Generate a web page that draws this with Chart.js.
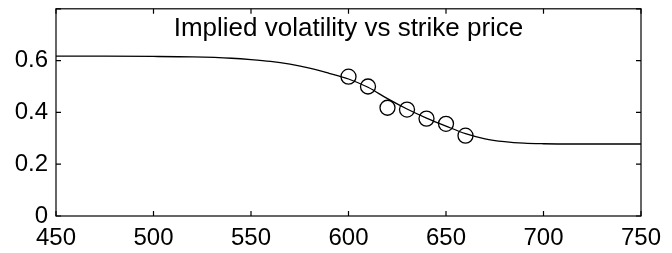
<!DOCTYPE html>
<html>
<head>
<meta charset="utf-8">
<script src="https://cdn.jsdelivr.net/npm/chart.js@4"></script>
<style>
  body { margin: 0; background: #fff; }
</style>
</head>
<body>
<canvas id="volChart" width="672" height="253"></canvas>
<script>
// market implied vols (circles)
const strikes = [600, 610, 620, 630, 640, 650, 660];
const impliedVols = [0.538, 0.500, 0.418, 0.411, 0.376, 0.356, 0.310];

// fitted curve
const curveStrikes = [450, 475, 500, 520, 540, 550, 560, 570, 580, 590, 600, 610, 620, 630, 640, 650, 660, 670, 680, 690, 700, 725, 750];
const curveVols = [0.617, 0.617, 0.616, 0.614, 0.609, 0.604, 0.597, 0.586, 0.571, 0.551, 0.529, 0.497, 0.453, 0.413, 0.378, 0.347, 0.318, 0.298, 0.287, 0.281, 0.279, 0.278, 0.278];

const xTicks = [450, 500, 550, 600, 650, 700, 750];
const yTicks = [0, 0.2, 0.4, 0.6, 0.8];
const yLabelled = [0, 0.2, 0.4, 0.6]; // 0.8 has a tick mark but no label
const titleText = 'Implied volatility vs strike price';

const fontFamily = '"Liberation Sans", Arial, Helvetica, sans-serif';

// box around the plot, inward ticks on all four sides, title inside the axes
const boxPlugin = {
    id: 'boxPlugin',
    afterDraw(chart) {
        const ctx = chart.ctx;
        const a = chart.chartArea;
        const xs = chart.scales.x;
        const ys = chart.scales.y;
        const len = 5;
        ctx.save();
        ctx.strokeStyle = '#000';
        ctx.lineWidth = 1.2;
        ctx.strokeRect(a.left, a.top, a.right - a.left, a.bottom - a.top);
        ctx.beginPath();
        xTicks.forEach(v => {
            const px = xs.getPixelForValue(v);
            ctx.moveTo(px, a.bottom); ctx.lineTo(px, a.bottom - len);
            ctx.moveTo(px, a.top); ctx.lineTo(px, a.top + len);
        });
        yTicks.forEach(v => {
            const py = ys.getPixelForValue(v);
            ctx.moveTo(a.left, py); ctx.lineTo(a.left + len, py);
            ctx.moveTo(a.right, py); ctx.lineTo(a.right - len, py);
        });
        ctx.stroke();
        ctx.fillStyle = '#000';
        ctx.font = '26px ' + fontFamily;
        ctx.textAlign = 'center';
        ctx.textBaseline = 'middle';
        ctx.fillText(titleText, (a.left + a.right) / 2, a.top + 20);
        ctx.restore();
    }
};

new Chart(document.getElementById('volChart'), {
    type: 'scatter',
    data: {
        datasets: [
            {
                label: 'fit',
                type: 'line',
                data: curveStrikes.map((x, i) => ({x: x, y: curveVols[i]})),
                borderColor: '#000',
                borderWidth: 1.3,
                pointRadius: 0,
                fill: false,
                cubicInterpolationMode: 'monotone'
            },
            {
                label: 'market',
                data: strikes.map((x, i) => ({x: x, y: impliedVols[i]})),
                borderColor: '#000',
                backgroundColor: 'rgba(0,0,0,0)',
                borderWidth: 1.3,
                pointRadius: 7.5,
                pointStyle: 'circle'
            }
        ]
    },
    options: {
        responsive: false,
        animation: false,
        layout: { padding: { left: 13, right: 31, top: 8, bottom: 0 } },
        plugins: {
            legend: { display: false },
            tooltip: { enabled: false }
        },
        scales: {
            x: {
                type: 'linear',
                min: 450,
                max: 750,
                grid: { display: false, drawTicks: false },
                border: { display: false },
                afterBuildTicks: scale => { scale.ticks = xTicks.map(v => ({value: v})); },
                afterFit: scale => {
                    scale.height = 37;
                    scale.paddingLeft = 0;
                    scale.paddingRight = 0;
                },
                ticks: {
                    color: '#000',
                    padding: 8,
                    maxRotation: 0,
                    font: { family: fontFamily, size: 24 }
                }
            },
            y: {
                min: 0,
                max: 0.8,
                grid: { display: false, drawTicks: false },
                border: { display: false },
                afterBuildTicks: scale => { scale.ticks = yLabelled.map(v => ({value: v})); },
                afterFit: scale => {
                    scale.width = 43;
                    scale.paddingTop = 0;
                    scale.paddingBottom = 0;
                },
                ticks: {
                    color: '#000',
                    padding: 8,
                    font: { family: fontFamily, size: 24 },
                    callback: v => (v === 0 ? '0' : v.toFixed(1))
                }
            }
        }
    },
    plugins: [boxPlugin]
});
</script>
</body>
</html>
